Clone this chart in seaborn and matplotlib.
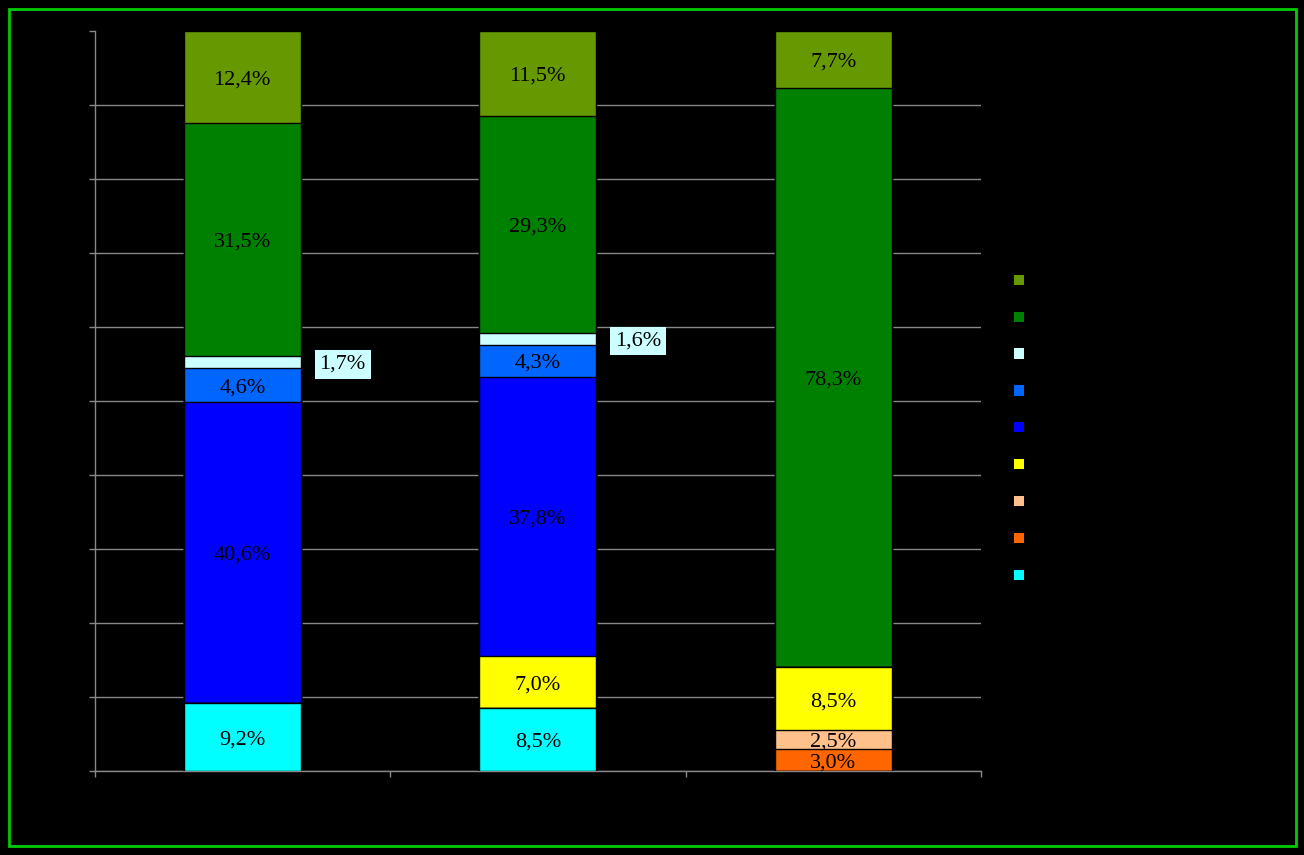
import numpy as np
import pandas as pd
import matplotlib
matplotlib.use('Agg')
import matplotlib.pyplot as plt
from matplotlib.patches import Patch, Rectangle
import seaborn as sns

# Categories (no visible labels in the original)
categories = ['Bar 1', 'Bar 2', 'Bar 3']

# Series in stacking order, bottom to top (percent)
cyan = [9.2, 8.5, 0.0]
orange = [0.0, 0.0, 3.0]
peach = [0.0, 0.0, 2.5]
yellow = [0.0, 7.0, 8.5]
blue = [40.6, 37.8, 0.0]
mid_blue = [4.6, 4.3, 0.0]
light_cyan = [1.7, 1.6, 0.0]
green = [31.5, 29.3, 78.3]
olive = [12.4, 11.5, 7.7]

series = ['cyan', 'orange', 'peach', 'yellow', 'blue', 'mid_blue', 'light_cyan', 'green', 'olive']
colors = ['#00FFFF', '#FF6600', '#FFC08C', '#FFFF00', '#0000FF', '#0066FF', '#CCFFFF', '#008000', '#669900']

df = pd.DataFrame({'cyan': cyan, 'orange': orange, 'peach': peach, 'yellow': yellow,
                   'blue': blue, 'mid_blue': mid_blue, 'light_cyan': light_cyan,
                   'green': green, 'olive': olive}, index=categories)
cum = df[series].cumsum(axis=1)

sns.set_style('white', {'axes.facecolor': 'black', 'figure.facecolor': 'black'})

fig = plt.figure(figsize=(13.04, 8.55), dpi=100)
ax = fig.add_axes([94.5 / 1304, 84 / 855, (981 - 94.5) / 1304, (771 - 31) / 855])
ax.set_facecolor('black')

# Draw stacked bars by overdrawing cumulative totals from the top layer down
for name, col in reversed(list(zip(series, colors))):
    sns.barplot(x=categories, y=cum[name].values, color=col, saturation=1,
                width=0.396, edgecolor='black', linewidth=1, errorbar=None,
                ax=ax, zorder=3)

# Segment labels
for name in series:
    for i, cat in enumerate(categories):
        v = df.loc[cat, name]
        if v <= 0:
            continue
        y = cum.loc[cat, name] - v / 2
        txt = f"{v:.1f}%".replace('.', ',')
        if name == 'light_cyan':
            ax.annotate(txt, (i + 0.34, y), xytext=(0, -1.5), textcoords='offset points',
                        ha='center', va='center', fontsize=16,
                        family='Liberation Serif', color='black', zorder=5,
                        bbox=dict(facecolor='#CCFFFF', edgecolor='none', pad=3.5))
        else:
            ax.annotate(txt, (i, y), xytext=(0, -2), textcoords='offset points',
                        ha='center', va='center', fontsize=16,
                        family='Liberation Serif', color='black', zorder=5)

ax.set_xlim(-0.5, 2.5)
ax.set_ylim(0, 100)
ax.set_xticks([-0.5, 0.5, 1.5, 2.5])
ax.set_xticklabels([])
ax.set_yticks(range(0, 101, 10))
ax.set_yticklabels([])
ax.set_xlabel('')
ax.set_ylabel('')

ax.yaxis.grid(True, color='#888888', linewidth=1)
ax.get_ygridlines()[-1].set_visible(False)
ax.set_axisbelow(True)

for s in ['top', 'right']:
    ax.spines[s].set_visible(False)
for s in ['left', 'bottom']:
    ax.spines[s].set_color('#888888')
    ax.spines[s].set_linewidth(1)
ax.tick_params(axis='both', direction='out', length=4.5, width=1, color='#888888',
               left=True, bottom=True)

# Legend (labels are not visible in the original)
handles = [Patch(facecolor=c, edgecolor='none') for c in reversed(colors)]
fig.legend(handles, [''] * len(handles), loc='upper left',
           bbox_to_anchor=(1008 / 1304, 1 - 268 / 855), frameon=False,
           fontsize=10, handlelength=0.75, handleheight=0.75,
           labelspacing=1.65, borderaxespad=0)

# Green frame around the chart
fig.add_artist(Rectangle((9 / 1304, 9 / 855), 1287 / 1304, 837 / 855,
                         transform=fig.transFigure, fill=False,
                         edgecolor='#00CC00', linewidth=2))

fig.savefig('out.png', dpi=100, facecolor='black')
